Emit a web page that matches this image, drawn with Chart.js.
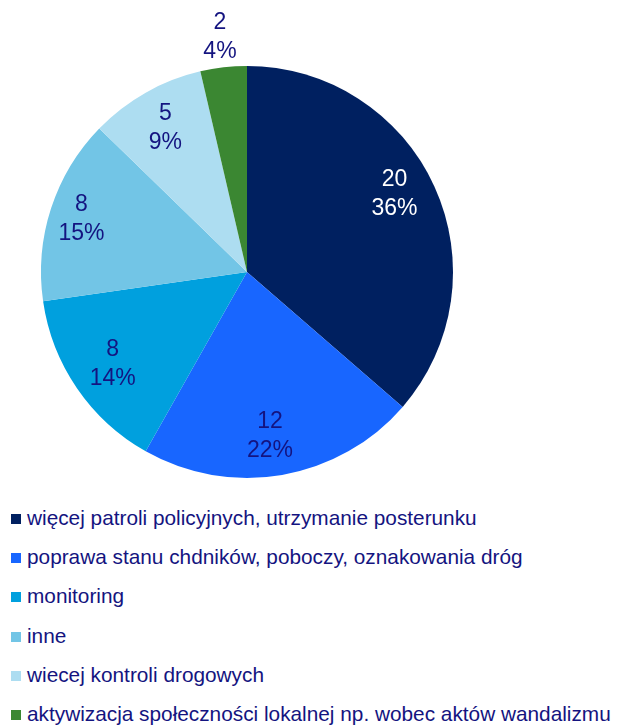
<!DOCTYPE html>
<html lang="pl">
<head>
  <meta charset="UTF-8" />
  <title>Propozycje poprawy bezpieczeństwa</title>
  <script src="https://cdn.jsdelivr.net/npm/chart.js"></script>
  <style>
    body {
      margin: 0;
      font-family: "Liberation Sans", Arial, sans-serif;
      background: #fff;
    }
    .chart-box {
      position: relative;
      width: 629px;
      height: 495px;
    }
    #legend {
      list-style: none;
      margin: 0;
      padding: 3px 0 0 11px;
      color: #141480;
      font-size: 20.8px;
    }
    #legend li {
      height: 39.2px;
      line-height: 39.2px;
      white-space: nowrap;
    }
    #legend .box {
      display: inline-block;
      width: 10px;
      height: 10px;
      margin-right: 6px;
      vertical-align: 1px;
    }
  </style>
</head>
<body>
  <div class="chart-box">
    <canvas id="pie"></canvas>
  </div>
  <ul id="legend"></ul>

  <script>
    const categories = [
      "więcej patroli policyjnych, utrzymanie posterunku",
      "poprawa stanu chdników, poboczy, oznakowania dróg",
      "monitoring",
      "inne",
      "wiecej kontroli drogowych",
      "aktywizacja społeczności lokalnej np. wobec aktów wandalizmu"
    ];
    const counts = [20, 12, 8, 8, 5, 2];
    const percents = [36, 22, 14, 15, 9, 4];

    const colors = ["#002060", "#1866FF", "#00A0DE", "#72C5E6", "#ADDDF1", "#3B8732"];
    const labelColors = ["#ffffff", "#141480", "#141480", "#141480", "#141480", "#141480"];
    // label placement: share of the radius and a small turn (degrees)
    const labelDist = [0.81, 0.8, 0.79, 0.845, 0.806, 1.15];
    const labelTurn = [-3.3, 1.8, 0, 0, 0, 0];

    const sliceLabels = {
      id: "sliceLabels",
      afterDatasetsDraw(chart) {
        const ctx = chart.ctx;
        const arcs = chart.getDatasetMeta(0).data;
        ctx.save();
        ctx.font = "23px 'Liberation Sans', Arial, sans-serif";
        ctx.textAlign = "center";
        ctx.textBaseline = "middle";
        arcs.forEach((arc, i) => {
          const p = arc.getProps(["x", "y", "startAngle", "endAngle", "outerRadius"], true);
          const mid = (p.startAngle + p.endAngle) / 2 + labelTurn[i] * Math.PI / 180;
          const r = p.outerRadius * labelDist[i];
          const x = p.x + Math.cos(mid) * r;
          const y = p.y + Math.sin(mid) * r;
          ctx.fillStyle = labelColors[i];
          ctx.fillText(String(counts[i]), x, y - 14);
          ctx.fillText(percents[i] + "%", x, y + 15);
        });
        ctx.restore();
      }
    };

    new Chart(document.getElementById("pie"), {
      type: "pie",
      data: {
        labels: categories,
        datasets: [{
          data: counts,
          backgroundColor: colors,
          borderWidth: 0
        }]
      },
      options: {
        responsive: true,
        maintainAspectRatio: false,
        animation: false,
        layout: {
          padding: { left: 41, right: 176, top: 66, bottom: 17 }
        },
        plugins: {
          legend: { display: false },
          tooltip: { enabled: false }
        }
      },
      plugins: [sliceLabels]
    });

    const legend = document.getElementById("legend");
    categories.forEach((name, i) => {
      const li = document.createElement("li");
      const box = document.createElement("span");
      box.className = "box";
      box.style.background = colors[i];
      li.appendChild(box);
      li.appendChild(document.createTextNode(name));
      legend.appendChild(li);
    });
  </script>
</body>
</html>
